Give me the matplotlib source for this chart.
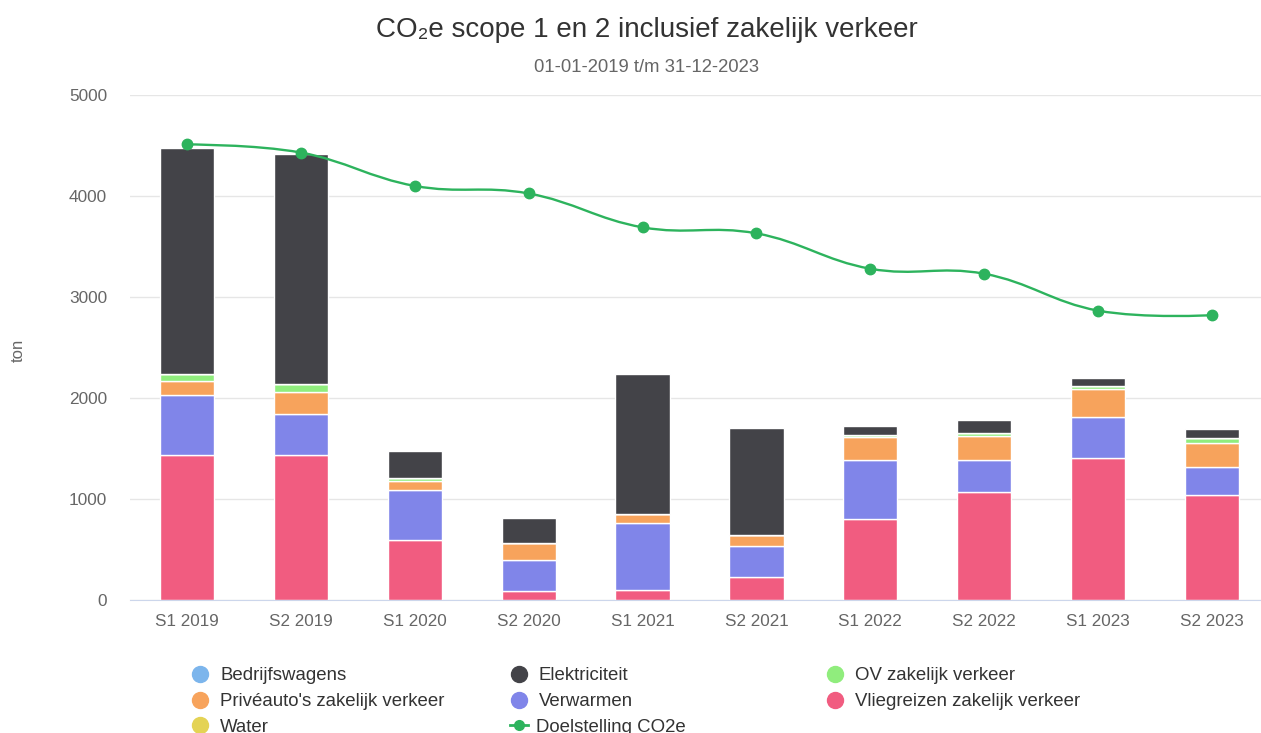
import matplotlib.pyplot as plt
from matplotlib.path import Path
from matplotlib.patches import PathPatch
from matplotlib.lines import Line2D
import numpy as np

plt.rcParams['font.family'] = ['Liberation Sans', 'DejaVu Sans']

# Data (ton CO2e per half year)
periods = ['S1 2019', 'S2 2019', 'S1 2020', 'S2 2020', 'S1 2021',
           'S2 2021', 'S1 2022', 'S2 2022', 'S1 2023', 'S2 2023']
vliegreizen = [1435, 1435, 595, 90, 95, 230, 805, 1070, 1405, 1035]
verwarmen = [595, 410, 490, 310, 670, 305, 580, 320, 410, 280]
priveauto = [135, 215, 90, 165, 90, 105, 230, 230, 275, 240]
ov = [75, 75, 30, 0, 0, 0, 15, 30, 25, 45]
elektriciteit = [2240, 2280, 275, 245, 1385, 1065, 95, 130, 80, 95]
bedrijfswagens = [0] * 10
water = [0] * 10
doelstelling = [4510, 4430, 4100, 4025, 3690, 3630, 3280, 3230, 2865, 2820]

COLORS = {
    'Bedrijfswagens': '#7cb5ec',
    'Elektriciteit': '#434348',
    'OV zakelijk verkeer': '#90ed7d',
    "Privéauto's zakelijk verkeer": '#f7a35c',
    'Verwarmen': '#8085e9',
    'Vliegreizen zakelijk verkeer': '#f15c80',
    'Water': '#e4d354',
}
LINE_COLOR = '#2db35d'


def spline_path(xs, ys, smoothing=1.5):
    """Smooth curve through the points, same way as a highcharts spline."""
    n = len(xs)
    denom = smoothing + 1
    left = [None] * n
    right = [None] * n
    for i in range(1, n - 1):
        px, py = xs[i], ys[i]
        lx, ly = xs[i - 1], ys[i - 1]
        nx, ny = xs[i + 1], ys[i + 1]
        lcx = (smoothing * px + lx) / denom
        lcy = (smoothing * py + ly) / denom
        rcx = (smoothing * px + nx) / denom
        rcy = (smoothing * py + ny) / denom
        corr = ((rcy - lcy) * (rcx - px)) / (rcx - lcx) + py - rcy
        left[i] = (lcx, lcy + corr)
        right[i] = (rcx, rcy + corr)
    verts = [(xs[0], ys[0])]
    codes = [Path.MOVETO]
    for i in range(1, n):
        c1 = right[i - 1] if right[i - 1] is not None else (xs[i - 1], ys[i - 1])
        c2 = left[i] if left[i] is not None else (xs[i], ys[i])
        verts += [c1, c2, (xs[i], ys[i])]
        codes += [Path.CURVE4] * 3
    return Path(verts, codes)


fig = plt.figure(figsize=(12.61, 7.33), dpi=100)
W, H = 1261, 733
ax = fig.add_axes([130 / W, (H - 600) / H, (W - 130) / W, 505 / H])

x = np.arange(len(periods))
step = 113.9
ax.set_xlim(-0.5, (W - 130) / step - 0.5)
ax.set_ylim(0, 5000)

stack = [
    ('Vliegreizen zakelijk verkeer', vliegreizen),
    ('Verwarmen', verwarmen),
    ("Privéauto's zakelijk verkeer", priveauto),
    ('OV zakelijk verkeer', ov),
    ('Water', water),
    ('Bedrijfswagens', bedrijfswagens),
    ('Elektriciteit', elektriciteit),
]
bottom = np.zeros(len(periods))
for name, vals in stack:
    vals = np.array(vals, dtype=float)
    ax.bar(x, vals, bottom=bottom, width=0.475, color=COLORS[name],
           edgecolor='white', linewidth=1, zorder=2)
    bottom += vals

# target line
ax.add_patch(PathPatch(spline_path(list(x), doelstelling), facecolor='none',
                       edgecolor=LINE_COLOR, linewidth=1.7, zorder=3))
ax.plot(x, doelstelling, 'o', color=LINE_COLOR, markersize=7.5, zorder=4)

# axes styling
for s in ['top', 'right', 'left']:
    ax.spines[s].set_visible(False)
ax.spines['bottom'].set_color('#ccd6eb')
ax.set_yticks(range(0, 5001, 1000))
ax.yaxis.grid(True, color='#e6e6e6', linewidth=1)
ax.set_axisbelow(True)
ax.tick_params(axis='y', length=0, pad=16.5, labelsize=12.4, labelcolor='#666666')
ax.tick_params(axis='x', length=0, pad=10, labelsize=12.3, labelcolor='#666666')
ax.set_xticks(x)
ax.set_xticklabels(periods)

fig.text(18 / W, 1 - 350 / H, 'ton', rotation=90, ha='center', va='center',
         fontsize=12, color='#666666')
fig.text(647 / W, 1 - 30 / H, 'CO\u2082e scope 1 en 2 inclusief zakelijk verkeer',
         ha='center', va='center', fontsize=20, color='#333333')
fig.text(647 / W, 1 - 67 / H, '01-01-2019 t/m 31-12-2023',
         ha='center', va='center', fontsize=13.3, color='#666666')

# legend, filled row by row
legend_items = ['Bedrijfswagens', 'Elektriciteit', 'OV zakelijk verkeer',
                "Privéauto's zakelijk verkeer", 'Verwarmen',
                'Vliegreizen zakelijk verkeer', 'Water', 'Doelstelling CO2e']
col_x = [200, 519, 835]
row_y = [674, 700, 725]
for i, name in enumerate(legend_items):
    mx = col_x[i % 3] / W
    my = 1 - row_y[i // 3] / H
    if name == 'Doelstelling CO2e':
        fig.add_artist(Line2D([mx - 9 / W, mx + 9 / W], [my, my],
                              color=LINE_COLOR, linewidth=2))
        fig.add_artist(Line2D([mx], [my], marker='o', color=LINE_COLOR,
                              markersize=7))
        tx = mx + 17 / W
    else:
        fig.add_artist(Line2D([mx], [my], marker='o', color=COLORS[name],
                              markersize=11.5))
        tx = mx + 20 / W
    fig.text(tx, my, name, ha='left', va='center_baseline', fontsize=13.4,
             color='#333333')

fig.savefig('out.png', dpi=100)
